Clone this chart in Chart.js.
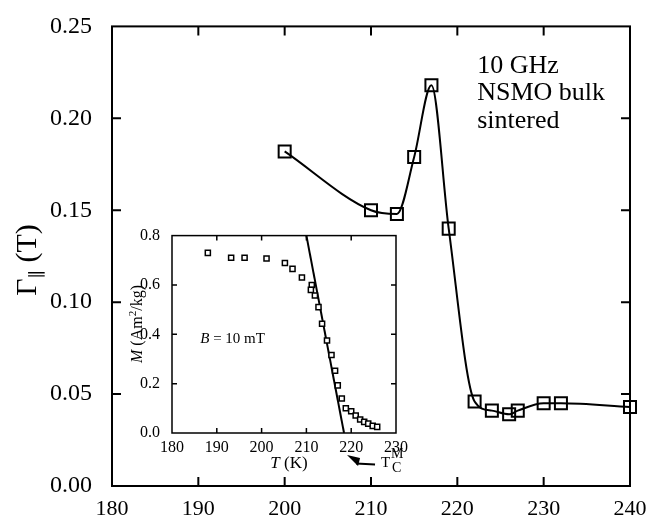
<!DOCTYPE html>
<html lang="en">
<head>
<meta charset="UTF-8" />
<title>NSMO FMR linewidth vs temperature</title>
<script src="https://cdn.jsdelivr.net/npm/chart.js"></script>
<style>
    body { margin: 0; background: #fff; }
    .wrap { position: relative; width: 651px; height: 524px; }
    #mainChart { position: absolute; left: 0; top: 0; }
    #insetChart { position: absolute; left: 124px; top: 222px; }
</style>
</head>
<body>
<div class="wrap">
    <canvas id="mainChart" width="651" height="524"></canvas>
    <canvas id="insetChart" width="296" height="258"></canvas>
</div>
<script>
    // main panel: linewidth vs temperature at 10 GHz
    const temps = [200, 210, 213, 215, 217, 219, 222, 224, 226, 227, 230, 232, 240];
    const linewidth = [0.182, 0.150, 0.148, 0.179, 0.218, 0.140, 0.046, 0.041, 0.039, 0.041, 0.045, 0.045, 0.043];
    const mainXTicks = [180, 190, 200, 210, 220, 230, 240];
    const mainYTicks = [0.00, 0.05, 0.10, 0.15, 0.20, 0.25];
    const noteLines = ["10 GHz", "NSMO bulk", "sintered"];

    // inset: magnetization at B = 10 mT
    const insetT = [188, 193.2, 196.2, 201.1, 205.2, 206.9, 209.0, 211.2, 211.0, 211.9, 212.7, 213.5, 214.6,
        215.6, 216.4, 217.0, 217.9, 218.8, 220.0, 221.0, 222.0, 222.9, 223.8, 224.8, 225.8];
    const insetM = [0.73, 0.71, 0.71, 0.707, 0.689, 0.665, 0.63, 0.60, 0.58, 0.557, 0.51, 0.443, 0.375,
        0.316, 0.252, 0.193, 0.14, 0.10, 0.088, 0.071, 0.055, 0.045, 0.038, 0.029, 0.025];
    const fitT = [210.0, 218.4];
    const fitM = [0.8, 0.0];
    const insetXTicks = [180, 190, 200, 210, 220, 230];
    const insetYTicks = [0.0, 0.2, 0.4, 0.6, 0.8];

    const serif = '"Liberation Serif", "DejaVu Serif", serif';

    // box frame with inward ticks on all four sides
    const frameTicks = {
        id: 'frameTicks',
        beforeDatasetsDraw(chart, args, opts) {
            const { ctx, chartArea: a, scales: { x, y } } = chart;
            ctx.save();
            ctx.strokeStyle = '#000';
            ctx.lineWidth = opts.width;
            ctx.strokeRect(a.left, a.top, a.right - a.left, a.bottom - a.top);
            ctx.beginPath();
            x.ticks.forEach(t => {
                const px = x.getPixelForValue(t.value);
                if (px < a.left + 2 || px > a.right - 2) return;
                ctx.moveTo(px, a.bottom); ctx.lineTo(px, a.bottom - opts.len);
                ctx.moveTo(px, a.top); ctx.lineTo(px, a.top + opts.len);
            });
            y.ticks.forEach(t => {
                const py = y.getPixelForValue(t.value);
                if (py < a.top + 2 || py > a.bottom - 2) return;
                ctx.moveTo(a.left, py); ctx.lineTo(a.left + opts.len, py);
                ctx.moveTo(a.right, py); ctx.lineTo(a.right - opts.len, py);
            });
            ctx.stroke();
            ctx.restore();
        }
    };

    // draws a run of [text, font, dy] pieces centred on the origin
    function drawPieces(ctx, pieces) {
        let total = 0;
        pieces.forEach(p => { ctx.font = p[1]; total += ctx.measureText(p[0]).width; });
        let cx = -total / 2;
        pieces.forEach(p => {
            ctx.font = p[1];
            ctx.fillText(p[0], cx, p[2]);
            cx += ctx.measureText(p[0]).width;
        });
    }

    const mainText = {
        id: 'mainText',
        afterDraw(chart) {
            const { ctx, scales: { x, y } } = chart;
            ctx.save();
            ctx.fillStyle = '#000';
            ctx.textBaseline = 'alphabetic';
            ctx.textAlign = 'left';
            ctx.font = '26px ' + serif;
            const nx = x.getPixelForValue(222.3);
            const ny = y.getPixelForValue(0.2249);
            noteLines.forEach((s, i) => ctx.fillText(s, nx, ny + i * 27.5));

            // y axis title
            ctx.translate(36, 260);
            ctx.rotate(-Math.PI / 2);
            drawPieces(ctx, [
                ['Γ', '30px ' + serif, 0],
                ['∥', '18px ' + serif, 7],
                [' (T)', '30px ' + serif, 0]
            ]);
            ctx.restore();
        }
    };

    const insetText = {
        id: 'insetText',
        afterDraw(chart) {
            const { ctx, chartArea: a, scales: { x, y } } = chart;
            ctx.save();
            ctx.fillStyle = '#000';
            ctx.strokeStyle = '#000';
            ctx.textBaseline = 'alphabetic';
            ctx.textAlign = 'left';

            // field label
            ctx.font = 'italic 15px ' + serif;
            const bx = x.getPixelForValue(186.3), by = y.getPixelForValue(0.364);
            ctx.fillText('B', bx, by);
            const bw = ctx.measureText('B').width;
            ctx.font = '15px ' + serif;
            ctx.fillText(' = 10 mT', bx + bw, by);

            // Curie temperature marker below the axis
            const tipX = x.getPixelForValue(218.4) + 3;
            const tipY = a.bottom + 22;
            ctx.beginPath();
            ctx.moveTo(tipX, tipY);
            ctx.lineTo(tipX + 13, tipY + 3);
            ctx.lineTo(tipX + 11, tipY + 11);
            ctx.closePath();
            ctx.fill();
            ctx.lineWidth = 2;
            ctx.beginPath();
            ctx.moveTo(tipX + 9, tipY + 8.5);
            ctx.lineTo(tipX + 28, tipY + 9.5);
            ctx.stroke();
            ctx.font = '15px ' + serif;
            ctx.fillText('T', tipX + 34, tipY + 12);
            ctx.font = '14px ' + serif;
            ctx.fillText('M', tipX + 44, tipY + 3);
            ctx.fillText('C', tipX + 45, tipY + 17);

            // x axis title
            ctx.save();
            ctx.translate((a.left + a.right) / 2 + 5, a.bottom + 35);
            drawPieces(ctx, [
                ['T', 'italic 17px ' + serif, 0],
                [' (K)', '17px ' + serif, 0]
            ]);
            ctx.restore();

            // y axis title
            ctx.translate(18, 102);
            ctx.rotate(-Math.PI / 2);
            drawPieces(ctx, [
                ['M', 'italic 16px ' + serif, 0],
                [' (Am', '16px ' + serif, 0],
                ['2', '11px ' + serif, -6],
                ['/kg)', '16px ' + serif, 0]
            ]);
            ctx.restore();
        }
    };

    new Chart(document.getElementById('mainChart'), {
        type: 'line',
        data: {
            datasets: [{
                data: temps.map((t, i) => ({ x: t, y: linewidth[i] })),
                borderColor: '#000',
                borderWidth: 2,
                cubicInterpolationMode: 'monotone',
                pointStyle: 'rect',
                pointRadius: 8.5,
                pointBorderWidth: 2,
                pointBorderColor: '#000',
                pointBackgroundColor: 'rgba(0,0,0,0)',
                clip: false
            }]
        },
        options: {
            responsive: false,
            animation: false,
            events: [],
            layout: { padding: { left: 0, top: 18, right: 21, bottom: 0 } },
            plugins: {
                legend: { display: false },
                tooltip: { enabled: false },
                frameTicks: { width: 2, len: 9 }
            },
            scales: {
                x: {
                    type: 'linear',
                    min: 180, max: 240,
                    afterFit: s => { s.height = 38; },
                    afterBuildTicks: s => { s.ticks = mainXTicks.map(v => ({ value: v })); },
                    grid: { display: false },
                    border: { display: false },
                    ticks: { color: '#000', padding: 2, font: { family: serif, size: 22 }, maxRotation: 0, callback: v => String(v) }
                },
                y: {
                    min: 0, max: 0.25,
                    afterFit: s => { s.width = 112; },
                    afterBuildTicks: s => { s.ticks = mainYTicks.map(v => ({ value: v })); },
                    grid: { display: false },
                    border: { display: false },
                    ticks: { color: '#000', padding: 12, font: { family: serif, size: 24 }, callback: v => v.toFixed(2) }
                }
            }
        },
        plugins: [frameTicks, mainText]
    });

    new Chart(document.getElementById('insetChart'), {
        type: 'scatter',
        data: {
            datasets: [{
                data: insetT.map((t, i) => ({ x: t, y: insetM[i] })),
                showLine: false,
                pointStyle: 'rect',
                pointRadius: 3.6,
                pointBorderWidth: 1.5,
                pointBorderColor: '#000',
                pointBackgroundColor: '#fff'
            }, {
                data: fitT.map((t, i) => ({ x: t, y: fitM[i] })),
                showLine: true,
                borderColor: '#000',
                borderWidth: 2,
                pointRadius: 0
            }]
        },
        options: {
            responsive: false,
            animation: false,
            events: [],
            layout: { padding: { left: 0, top: 9, right: 24, bottom: 0 } },
            plugins: {
                legend: { display: false },
                tooltip: { enabled: false },
                frameTicks: { width: 1.5, len: 5 }
            },
            scales: {
                x: {
                    type: 'linear',
                    min: 180, max: 230,
                    afterFit: s => { s.height = 47; },
                    afterBuildTicks: s => { s.ticks = insetXTicks.map(v => ({ value: v })); },
                    grid: { display: false },
                    border: { display: false },
                    ticks: { color: '#000', padding: -3, font: { family: serif, size: 16 }, maxRotation: 0, callback: v => String(v) }
                },
                y: {
                    min: 0, max: 0.8,
                    afterFit: s => { s.width = 48; },
                    afterBuildTicks: s => { s.ticks = insetYTicks.map(v => ({ value: v })); },
                    grid: { display: false },
                    border: { display: false },
                    ticks: { color: '#000', padding: 4, font: { family: serif, size: 16 }, callback: v => v.toFixed(1) }
                }
            }
        },
        plugins: [frameTicks, insetText]
    });
</script>
</body>
</html>
